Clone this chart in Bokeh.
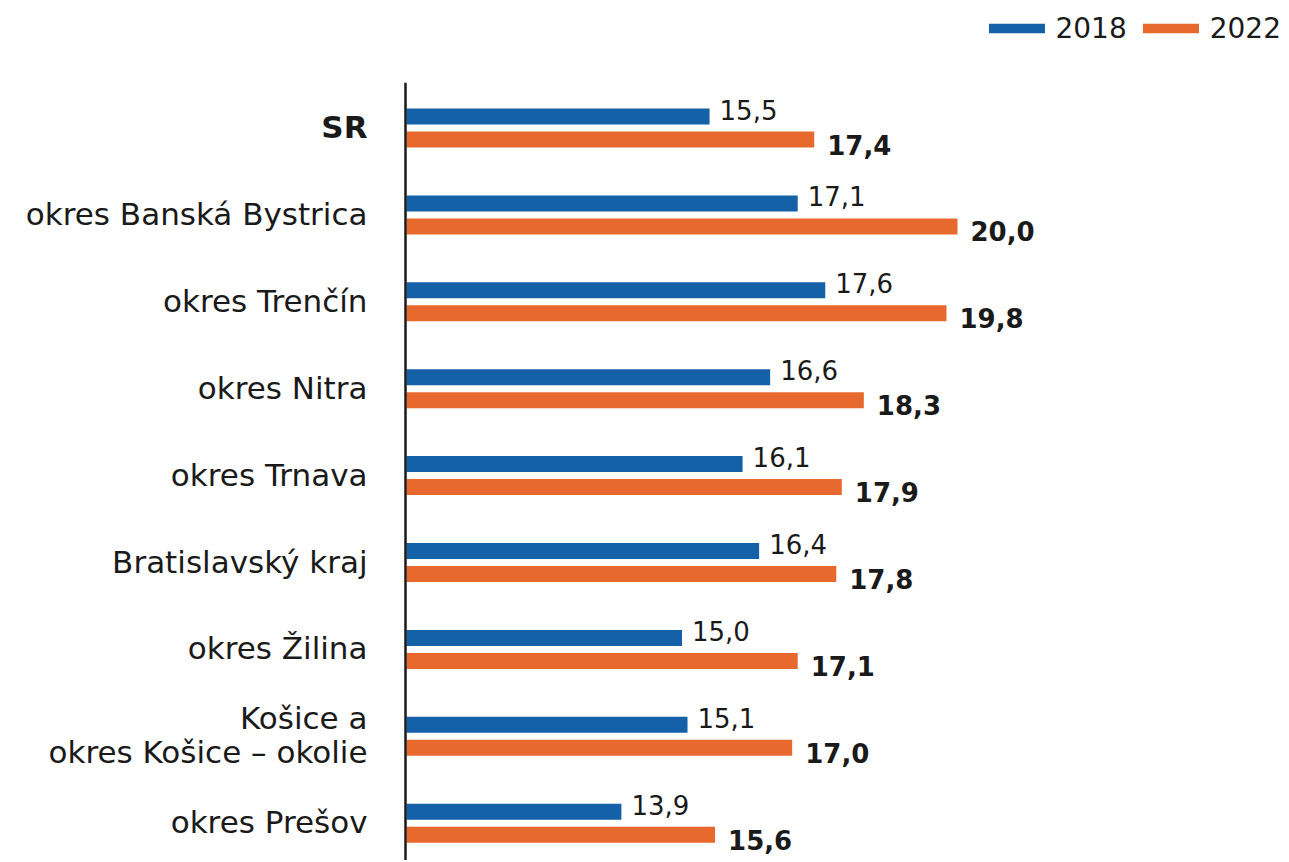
import numpy as np
from bokeh.plotting import figure
from bokeh.models import ColumnDataSource, Range1d, Legend, LegendItem
from bokeh.core.properties import value
from bokeh.embed import file_html
from bokeh.resources import INLINE

# ---- data ----
categories = ["SR", "okres Banská Bystrica", "okres Trenčín", "okres Nitra",
              "okres Trnava", "Bratislavský kraj", "okres Žilina",
              "Košice a\nokres Košice – okolie", "okres Prešov"]
v2018 = [15.5, 17.1, 17.6, 16.6, 16.1, 16.4, 15.0, 15.1, 13.9]
v2022 = [17.4, 20.0, 19.8, 18.3, 17.9, 17.8, 17.1, 17.0, 15.6]
series = ["2018", "2022"]
axis_start = 10.0

BLUE = "#1461a8"
ORANGE = "#e8692e"
INK = "#1a1a1a"
FONT = "DejaVu Sans"

W, H = 1286, 860
px_per_unit = 55.1
zero_page = 406
x0 = axis_start - zero_page / px_per_unit
x1 = x0 + W / px_per_unit
band = 86.9
c0 = 127.5
y_top = -c0 / band
y_bot = (H - c0) / band

n = len(categories)
idx = np.arange(n)
off = 11.5 / band
bh = 16 / band

fmt = lambda v: f"{v:.1f}".replace(".", ",")

src = ColumnDataSource(dict(
    y18=idx - off, y22=idx + off,
    v18=v2018, v22=v2022,
    l18=[fmt(v) for v in v2018], l22=[fmt(v) for v in v2022],
    ly18=idx - off - 7 / band, ly22=idx + off + 5 / band,
    cat=categories, cy=idx - 1 / band,
    cstyle=["bold"] + ["normal"] * (n - 1),
    base=[axis_start] * n,
))

p = figure(width=W, height=H, output_backend="svg", toolbar_location=None, tools="",
           x_range=Range1d(x0, x1), y_range=Range1d(y_bot, y_top),
           min_border=0, min_border_left=0, min_border_right=0,
           min_border_top=0, min_border_bottom=0)
p.axis.visible = False
p.grid.visible = False
p.outline_line_color = None
p.background_fill_color = "white"
p.border_fill_color = "white"

r18 = p.hbar(y="y18", left="base", right="v18", height=bh, source=src,
             fill_color=BLUE, line_color=None)
r22 = p.hbar(y="y22", left="base", right="v22", height=bh, source=src,
             fill_color=ORANGE, line_color=None)

# axis line
p.segment(x0=[axis_start - 1 / px_per_unit], x1=[axis_start - 1 / px_per_unit],
          y0=[-0.52], y1=[y_bot + 0.2], line_color=INK, line_width=2.5)

# value labels
p.text(x="v18", y="ly18", text="l18", source=src, x_offset=10,
       text_align="left", text_baseline="middle",
       text_font=value(FONT), text_font_size="26px", text_color=INK)
p.text(x="v22", y="ly22", text="l22", source=src, x_offset=13,
       text_align="left", text_baseline="middle",
       text_font=value(FONT), text_font_size="26px", text_font_style="bold",
       text_color=INK)

# category labels
p.text(x="base", y="cy", text="cat", source=src, x_offset=-39,
       text_align="right", text_baseline="middle",
       text_font=value(FONT), text_font_size="31px", text_font_style="cstyle",
       text_color=INK, text_line_height=0.95)

# legend (area glyphs are drawn inset by 10% of the glyph box)
legend = Legend(items=[LegendItem(label=series[0], renderers=[r18]),
                       LegendItem(label=series[1], renderers=[r22])],
                orientation="horizontal", location="top_right",
                glyph_width=70, glyph_height=12, label_standoff=4, spacing=9,
                padding=0, margin=5, label_height=46, border_line_color=None,
                background_fill_alpha=0,
                label_text_font=FONT, label_text_font_size="28px",
                label_text_color=INK)
p.add_layout(legend)

open("out.html", "w").write(file_html(p, INLINE))
